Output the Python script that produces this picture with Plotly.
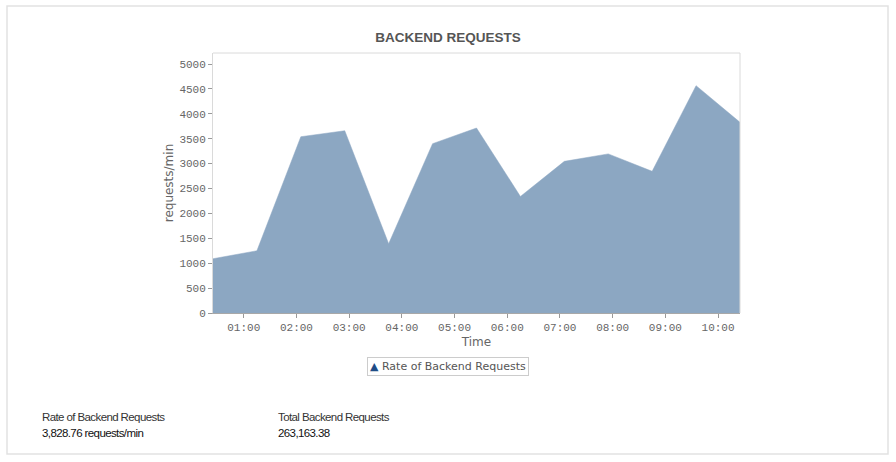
import plotly.graph_objects as go

times = ["2024-01-01 00:25", "2024-01-01 01:15", "2024-01-01 02:05", "2024-01-01 02:55",
         "2024-01-01 03:45", "2024-01-01 04:35", "2024-01-01 05:25", "2024-01-01 06:15",
         "2024-01-01 07:05", "2024-01-01 07:55", "2024-01-01 08:45", "2024-01-01 09:35",
         "2024-01-01 10:25"]
rate = [1090, 1250, 3540, 3660, 1390, 3400, 3715, 2340, 3045, 3195, 2845, 4565, 3828.76]

title_text = "BACKEND REQUESTS"
series_name = "Rate of Backend Requests"
y_title = "requests/min"
x_title = "Time"
footer_labels = ["Rate of Backend Requests", "Total Backend Requests"]
footer_values = ["3,828.76 requests/min", "263,163.38"]

W, H = 896, 462
L, R, T, B = 213, 740, 53, 313

def px(x):
    return (x - L) / (R - L)

def py(y):
    return (B - y) / (B - T)

fig = go.Figure()
fig.add_trace(go.Scatter(
    x=times, y=rate, mode="lines", fill="tozeroy",
    line=dict(color="#8CA7C2", width=0.5), fillcolor="#8CA7C2",
    showlegend=False, hoverinfo="x+y"))

shapes = [
    dict(type="rect", xref="paper", yref="paper", x0=px(7), x1=px(888), y0=py(454), y1=py(6),
         line=dict(color="#E2E2E2", width=1.5), fillcolor="rgba(0,0,0,0)", layer="below"),
    dict(type="line", xref="paper", yref="paper", x0=0, x1=1, y0=1, y1=1,
         line=dict(color="#DADADA", width=1)),
    dict(type="line", xref="paper", yref="paper", x0=1, x1=1, y0=0, y1=1,
         line=dict(color="#DADADA", width=1)),
]

tight = "<span style='letter-spacing:-0.6px'>{}</span>"
annotations = []
cols = [40, 276]
for i in range(2):
    annotations.append(dict(xref="paper", yref="paper", x=px(cols[i]), y=py(417),
                            xanchor="left", yanchor="middle", showarrow=False,
                            text=tight.format(footer_labels[i]),
                            font=dict(family="Liberation Sans, Arial", size=11.5, color="#333333")))
    annotations.append(dict(xref="paper", yref="paper", x=px(cols[i]), y=py(433),
                            xanchor="left", yanchor="middle", showarrow=False,
                            text=tight.format(footer_values[i]),
                            font=dict(family="Liberation Sans, Arial", size=11.5, color="#111111")))

# legend box
annotations.append(dict(xref="paper", yref="paper", x=px(447.5), y=py(366),
                        xanchor="center", yanchor="middle", showarrow=False,
                        text="<span style='color:#1F4C86'>▲</span> " + series_name,
                        bordercolor="#CCCCCC", borderwidth=1, borderpad=2, bgcolor="white",
                        font=dict(family="DejaVu Sans", size=11, color="#555555")))

fig.update_layout(
    width=W, height=H,
    margin=dict(l=L, r=W - R, t=T, b=H - B, pad=0),
    paper_bgcolor="white", plot_bgcolor="white",
    showlegend=False,
    title=dict(text="<b>" + title_text + "</b>", x=448 / W, xanchor="center",
               y=1 - 37 / H, yanchor="middle",
               font=dict(family="Liberation Sans, Arial", size=13.5, color="#555555")),
    xaxis=dict(type="date", range=["2024-01-01 00:25", "2024-01-01 10:25"],
               dtick=3600000, tick0="2024-01-01 00:00", tickformat="%H:%M",
               showgrid=False, zeroline=False, showline=True, linecolor="#A8A8A8", linewidth=1,
               ticks="outside", ticklen=4, tickcolor="#999999",
               tickfont=dict(family="Liberation Mono, DejaVu Sans Mono", size=11, color="#666666"),
               title=dict(text=x_title, standoff=4,
                          font=dict(family="DejaVu Sans", size=12, color="#666666"))),
    yaxis=dict(range=[0, 5221], dtick=500, tick0=0,
               showgrid=False, zeroline=False, showline=True, linecolor="#DADADA", linewidth=1,
               ticks="outside", ticklen=4, tickcolor="#999999",
               tickfont=dict(family="Liberation Mono, DejaVu Sans Mono", size=11, color="#666666"),
               title=dict(text=y_title, standoff=3,
                          font=dict(family="DejaVu Sans", size=12, color="#666666"))),
    shapes=shapes,
    annotations=annotations,
)

fig.write_html("out.html", config={"displayModeBar": False},
               post_script="document.body.style.margin='0px';document.body.style.overflow='hidden';")
